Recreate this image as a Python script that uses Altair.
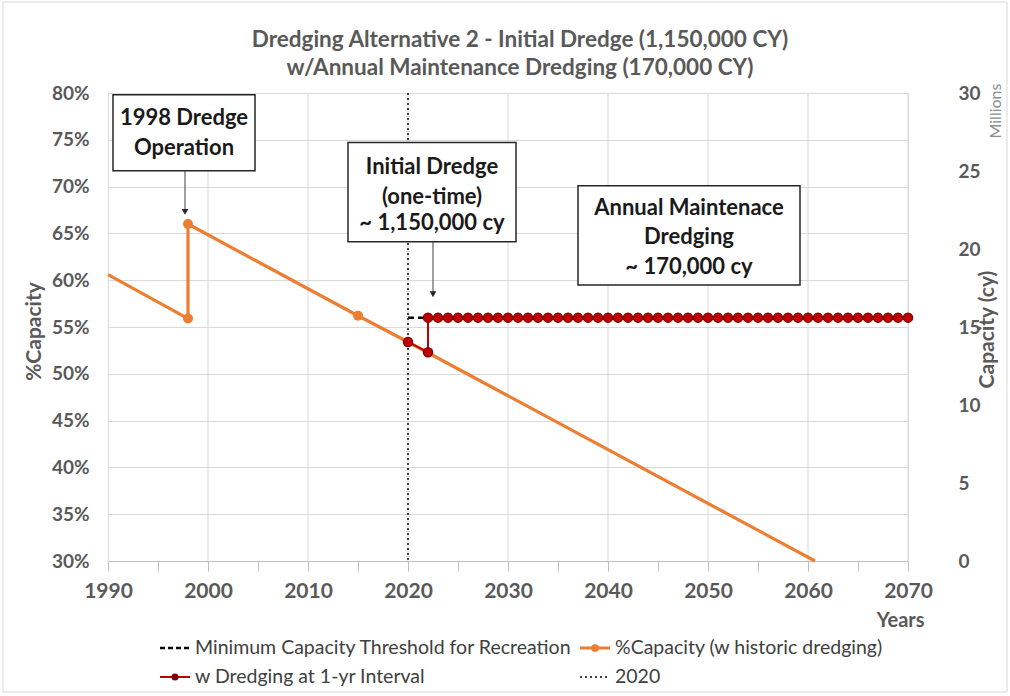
import altair as alt
import pandas as pd

FONT = "Lato"
GRAY = "#595959"
ORANGE = "#ED7D31"
RED = "#C00000"
DARKRED = "#7F0000"

# %Capacity with historic dredging (1998 dredge raises capacity, then linear loss)
hist_year = [1990, 1998, 1998, 2015, 2020, 2060.7]
hist_pct = [60.6, 55.9, 66.0, 56.2, 53.4, 30.0]
hist_marker = [False, True, True, True, False, False]

# Scenario: initial dredge in 2022, then annual maintenance dredging
dredge_year = [2020, 2022, 2022, 2023, 2024, 2025, 2026, 2027, 2028, 2029, 2030,
               2031, 2032, 2033, 2034, 2035, 2036, 2037, 2038, 2039, 2040,
               2041, 2042, 2043, 2044, 2045, 2046, 2047, 2048, 2049, 2050,
               2051, 2052, 2053, 2054, 2055, 2056, 2057, 2058, 2059, 2060,
               2061, 2062, 2063, 2064, 2065, 2066, 2067, 2068, 2069, 2070]
dredge_pct = [53.4, 52.3] + [56.0] * 49

# Minimum capacity threshold for recreation
threshold_year = [2020, 2070]
threshold_pct = [56.0, 56.0]

marker_year = 2020
decades = [2000, 2010, 2020, 2030, 2040, 2050, 2060, 2070]
x_ticks = [1990, 1995, 2000, 2005, 2010, 2015, 2020, 2025, 2030, 2035,
           2040, 2045, 2050, 2055, 2060, 2065, 2070]
y_ticks = [30, 35, 40, 45, 50, 55, 60, 65, 70, 75, 80]
cap_ticks = [0, 5, 10, 15, 20, 25, 30]

title_lines = ["Dredging Alternative 2 - Initial Dredge (1,150,000 CY)",
               "w/Annual Maintenance Dredging (170,000 CY)"]

# Callout boxes (data units) and their text
box_x1 = [1990.5, 2014.0, 2037.0]
box_x2 = [2004.7, 2030.8, 2059.2]
box_y1 = [71.7, 64.1, 59.5]
box_y2 = [79.8, 74.7, 70.1]
note_text = ["1998 Dredge", "Operation",
             "Initial Dredge", "(one-time)", "~ 1,150,000 cy",
             "Annual Maintenace", "Dredging", "~ 170,000 cy"]
note_x = [1997.6, 1997.6, 2022.4, 2022.4, 2022.4, 2048.1, 2048.1, 2048.1]
note_y = [77.3, 74.1, 72.1, 68.9, 66.1, 67.7, 64.6, 61.4]
arrow_x = [1997.7, 2022.5]
arrow_top = [71.7, 64.1]
arrow_tip = [67.3, 58.5]

legend_labels = ["Minimum Capacity Threshold for Recreation",
                 "%Capacity (w historic dredging)",
                 "w Dredging at 1-yr Interval", "2020"]

W, H = 800, 468

xs = alt.Scale(domain=[1990, 2070], nice=False, zero=False)
ys = alt.Scale(domain=[30, 80], nice=False, zero=False)

hist = pd.DataFrame({"year": hist_year, "pct": hist_pct, "mk": hist_marker,
                     "i": list(range(len(hist_year)))})
dredge = pd.DataFrame({"year": dredge_year, "pct": dredge_pct,
                       "i": list(range(len(dredge_year)))})
thr = pd.DataFrame({"year": threshold_year, "pct": threshold_pct})

y_axis = alt.Axis(values=y_ticks, labelExpr="datum.value + '%'", grid=True,
                  gridColor="#d9d9d9", domain=False, ticks=False,
                  labelFont=FONT, labelFontSize=19, labelFontWeight="bold",
                  labelColor=GRAY, labelPadding=19,
                  title="%Capacity", titleFont=FONT, titleFontSize=21,
                  titleFontWeight="bold", titleColor=GRAY, titleAngle=270,
                  titleX=-74, titleY=H / 2 + 4, titleAlign="center",
                  titleBaseline="middle")
x_axis = alt.Axis(values=x_ticks,
                  labelExpr="datum.value % 10 === 0 ? '' + datum.value : ''",
                  grid=False, tickSize=10, tickColor="#bfbfbf",
                  domainColor="#bfbfbf", labelFont=FONT, labelFontSize=21,
                  labelFontWeight="bold", labelColor=GRAY, labelPadding=9,
                  labelFlush=False, title="Years", titleFont=FONT,
                  titleFontSize=20, titleFontWeight="bold", titleColor=GRAY,
                  titleX=W + 16, titleY=59, titleAlign="right",
                  titleBaseline="middle")

X = lambda: alt.X("year:Q", scale=xs, axis=x_axis)
Y = lambda: alt.Y("pct:Q", scale=ys, axis=y_axis)

grid_v = alt.Chart(pd.DataFrame({"year": decades})).mark_rule(
    color="#d9d9d9", strokeWidth=1).encode(x=X())

hist_line = alt.Chart(hist).mark_line(color=ORANGE, strokeWidth=3.2).encode(
    x=X(), y=Y(), order="i:Q")
hist_pts = alt.Chart(hist).transform_filter("datum.mk").mark_circle(
    color=ORANGE, size=100, opacity=1).encode(x=X(), y=Y())

thr_line = alt.Chart(thr).mark_line(color="black", strokeWidth=2.5,
                                    strokeDash=[6, 4]).encode(x=X(), y=Y())

v2020 = alt.Chart(pd.DataFrame({"year": [marker_year]})).mark_rule(
    color="#404040", strokeWidth=2, strokeDash=[2, 3]).encode(x=X())

dredge_line = alt.Chart(dredge).mark_line(color=RED, strokeWidth=2).encode(
    x=X(), y=Y(), order="i:Q")
dredge_pts = alt.Chart(dredge).mark_point(
    filled=True, fill=RED, stroke=DARKRED, strokeWidth=1.3, size=85,
    opacity=1, shape="circle").encode(x=X(), y=Y())

boxes = alt.Chart(pd.DataFrame({"x1": box_x1, "x2": box_x2, "y1": box_y1,
                                "y2": box_y2})).mark_rect(
    fill="white", stroke="#262626", strokeWidth=1.5).encode(
    x=alt.X("x1:Q", scale=xs, axis=x_axis), x2="x2:Q",
    y=alt.Y("y1:Q", scale=ys, axis=y_axis), y2="y2:Q")
notes = alt.Chart(pd.DataFrame({"t": note_text, "year": note_x,
                                "pct": note_y})).mark_text(
    font=FONT, fontSize=22, fontWeight="bold", color="#1a1a1a",
    baseline="middle").encode(x=X(), y=Y(), text="t:N")

arrows = alt.Chart(pd.DataFrame({"year": arrow_x, "top": arrow_top,
                                 "pct": arrow_tip})).mark_rule(
    color="#404040", strokeWidth=1).encode(
    x=X(), y=alt.Y("top:Q", scale=ys, axis=y_axis), y2="pct:Q")
heads = alt.Chart(pd.DataFrame({"year": arrow_x, "pct": arrow_tip})).mark_point(
    shape="triangle-down", filled=True, color="#262626", size=45,
    opacity=1).encode(x=X(), y=Y())

# Two-line chart title, drawn above the plot (pixel positions)
title = alt.Chart(pd.DataFrame({"t": title_lines, "px": [412, 412],
                                "py": [-53, -25]})).mark_text(
    font=FONT, fontSize=22.5, fontWeight="bold", color=GRAY,
    baseline="middle", align="center").encode(
    x=alt.X("px:Q", scale=None), y=alt.Y("py:Q", scale=None), text="t:N")

# Legend below the plot (pixel positions)
leg = pd.DataFrame({"t": legend_labels, "px": [87, 507, 87, 507],
                    "py": [555, 555, 584, 584]})
leg_text = alt.Chart(leg).mark_text(
    font=FONT, fontSize=19.5, color="#404040", align="left",
    baseline="middle").encode(x=alt.X("px:Q", scale=None),
                              y=alt.Y("py:Q", scale=None), text="t:N")


def leg_sym(i, **kw):
    d = pd.DataFrame({"a": [leg.px[i] - 35], "b": [leg.px[i] - 5],
                      "py": [leg.py[i]]})
    return alt.Chart(d).mark_rule(**kw).encode(
        x=alt.X("a:Q", scale=None), x2="b:Q", y=alt.Y("py:Q", scale=None))


def leg_dot(i, **kw):
    d = pd.DataFrame({"a": [leg.px[i] - 20], "py": [leg.py[i]]})
    return alt.Chart(d).mark_point(filled=True, opacity=1, shape="circle",
                                   **kw).encode(
        x=alt.X("a:Q", scale=None), y=alt.Y("py:Q", scale=None))


legend = alt.layer(
    leg_sym(0, color="black", strokeWidth=2.5, strokeDash=[5, 3]),
    leg_sym(1, color=ORANGE, strokeWidth=3),
    leg_dot(1, color=ORANGE, size=60),
    leg_sym(2, color=RED, strokeWidth=2),
    leg_dot(2, fill=DARKRED, stroke=DARKRED, size=25),
    leg_sym(3, color="#404040", strokeWidth=2, strokeDash=[2, 3]),
    leg_text,
)

millions = alt.Chart(pd.DataFrame({"t": ["Millions"]})).mark_text(
    font=FONT, fontSize=16, color="#8c8c8c", angle=270, baseline="middle",
    align="center").encode(x=alt.value(W + 88), y=alt.value(18), text="t:N")

frame = alt.Chart(pd.DataFrame({"a": [-105], "b": [W + 99], "c": [-91],
                                "d": [H + 131]})).mark_rect(
    fill=None, stroke="#d9d9d9", strokeWidth=1).encode(
    x=alt.X("a:Q", scale=None), x2="b:Q",
    y=alt.Y("c:Q", scale=None), y2="d:Q")

main = alt.layer(frame, grid_v, hist_line, hist_pts, thr_line, v2020,
                 dredge_line, dredge_pts, boxes, notes, arrows, heads,
                 title, legend, millions)

right = alt.Chart(pd.DataFrame({"cap": [0, 30]})).mark_point(opacity=0).encode(
    x=alt.value(0),
    y=alt.Y("cap:Q", scale=alt.Scale(domain=[0, 30], nice=False),
            axis=alt.Axis(orient="right", values=cap_ticks, grid=False,
                          domain=False, ticks=False, labelFont=FONT,
                          labelFontSize=19, labelFontWeight="bold",
                          labelColor=GRAY, labelPadding=50,
                          title="Capacity (cy)", titleFont=FONT,
                          titleFontSize=21, titleFontWeight="bold",
                          titleColor=GRAY, titleAngle=270, titleX=79,
                          titleY=H / 2 + 2, titleAlign="center",
                          titleBaseline="middle")))

chart = alt.layer(main, right).resolve_scale(y="independent").properties(
    width=W, height=H,
    padding={"left": 108, "top": 93, "right": 102, "bottom": 135},
    autosize=alt.AutoSizeParams(type="none"),
).configure_view(stroke=None).configure(background="white")

chart.save("out.html", embed_options={"renderer": "svg", "actions": False})
